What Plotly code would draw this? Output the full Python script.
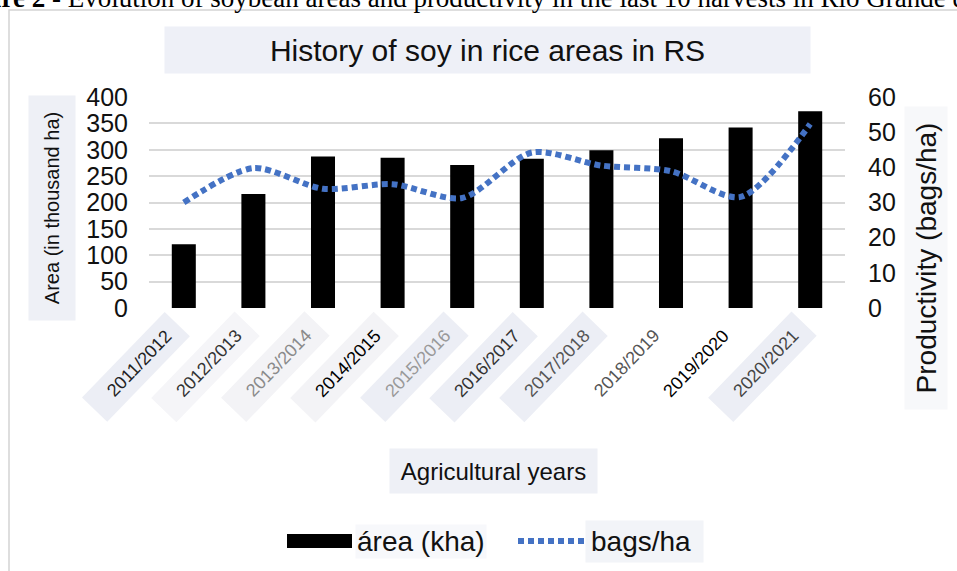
import plotly.graph_objects as go

# Agricultural seasons and values
seasons = ["2011/2012", "2012/2013", "2013/2014", "2014/2015", "2015/2016",
           "2016/2017", "2017/2018", "2018/2019", "2019/2020", "2020/2021"]
area_kha = [121, 216, 287, 285, 271, 283, 299, 322, 342, 373]
bags_ha = [30.0, 39.8, 33.9, 35.2, 31.3, 44.2, 40.5, 38.9, 31.6, 52.3]

left_ticks = [0, 50, 100, 150, 200, 250, 300, 350, 400]
right_ticks = [0, 10, 20, 30, 40, 50, 60]

label_colors = ["#222222", "#333333", "#8a8a8a", "#000000", "#999999",
                "#333333", "#555555", "#555555", "#000000", "#444444"]
label_bgs = ["#eceef5", "#f5f5f8", "#f3f3f6", "#f3f3f6", "#eceef5",
             "#eceef5", "#eceef5", "rgba(0,0,0,0)", "rgba(0,0,0,0)", "#eceef5"]

W, H = 957, 571
L, R, T, B = 149, 112, 97, 263
PW, PH = W - L - R, H - T - B


def px(x):
    return (x - L) / PW


def py(y):
    return (H - B - y) / PH


FONT = "Liberation Sans, Arial, sans-serif"

fig = go.Figure()
fig.add_trace(go.Bar(x=seasons, y=area_kha, name="área (kha)",
                     marker=dict(color="#000000", line=dict(width=0)),
                     yaxis="y", showlegend=False))
fig.add_trace(go.Scatter(x=seasons, y=bags_ha, name="bags/ha", mode="lines",
                         line=dict(color="#4472C4", width=6, dash="6px,4px",
                                   shape="spline", smoothing=0.8),
                         yaxis="y2", showlegend=False))

annotations = []
# rotated category labels with light boxes
for s, c, bg in zip(seasons, label_colors, label_bgs):
    annotations.append(dict(
        x=s, xref="x", y=py(367), yref="paper", xshift=-48,
        text="\u00a0\u00a0\u00a0" + s + "\u00a0", textangle=-46, showarrow=False,
        font=dict(family=FONT, size=18, color=c),
        bgcolor=bg, borderpad=7, xanchor="center", yanchor="middle"))

# chart title
annotations.append(dict(
    x=px(487), y=py(50), xref="paper", yref="paper", showarrow=False,
    text="History of soy in rice areas in RS", width=643, height=44,
    bgcolor="#eef0f7", font=dict(family=FONT, size=30, color="#111111"),
    xanchor="center", yanchor="middle"))

# axis titles
annotations.append(dict(
    x=px(52), y=py(208), xref="paper", yref="paper", showarrow=False,
    text="Area (in thousand ha)", textangle=-90, bgcolor="#eef0f6",
    width=222, height=44, font=dict(family=FONT, size=20, color="#111111"),
    xanchor="center", yanchor="middle"))
annotations.append(dict(
    x=px(926), y=py(258), xref="paper", yref="paper", showarrow=False,
    text="Productivity (bags/ha)", textangle=-90, bgcolor="#f7f8fa",
    width=300, height=40, font=dict(family=FONT, size=28, color="#111111"),
    xanchor="center", yanchor="middle"))
annotations.append(dict(
    x=px(493), y=py(471), xref="paper", yref="paper", showarrow=False,
    text="Agricultural years", width=205, height=42, bgcolor="#eef0f6",
    font=dict(family=FONT, size=24, color="#111111"),
    xanchor="center", yanchor="middle"))

# legend
annotations.append(dict(
    x=px(355), y=py(541), xref="paper", yref="paper", showarrow=False,
    text="área (kha)", bgcolor="#f7f8fb",
    font=dict(family=FONT, size=28, color="#111111"),
    xanchor="left", yanchor="middle"))
annotations.append(dict(
    x=px(585), y=py(541), xref="paper", yref="paper", showarrow=False,
    text="bags/ha ", bgcolor="#f2f4f8", borderpad=5,
    font=dict(family=FONT, size=28, color="#111111"),
    xanchor="left", yanchor="middle"))

# figure caption
annotations.append(dict(
    x=px(-52), y=py(14), xref="paper", yref="paper", showarrow=False,
    text="<b>Figure 2 -</b> Evolution of soybean areas and productivity in the last 10 harvests in Rio Grande do Sul",
    font=dict(family="Liberation Serif, Times New Roman, serif", size=27, color="#000000"),
    xanchor="left", yanchor="bottom", borderpad=0))

shapes = [
    dict(type="rect", xref="paper", yref="paper",
         x0=px(9), x1=px(975), y0=py(590), y1=py(10),
         line=dict(color="#d3d3d3", width=1.5), fillcolor="rgba(0,0,0,0)", layer="below"),
    dict(type="rect", xref="paper", yref="paper",
         x0=px(287), x1=px(352), y0=py(548), y1=py(534),
         line=dict(width=0), fillcolor="#000000"),
    dict(type="line", xref="paper", yref="paper",
         x0=px(518), x1=px(584), y0=py(541), y1=py(541),
         line=dict(color="#4472C4", width=6, dash="6px,4px")),
]

fig.update_layout(
    width=W, height=H,
    margin=dict(l=L, r=R, t=T, b=B, pad=0),
    paper_bgcolor="#ffffff", plot_bgcolor="#ffffff",
    bargap=0.655,
    font=dict(family=FONT, color="#111111"),
    xaxis=dict(range=[-0.5, len(seasons) - 0.5], autorange=False,
               showticklabels=False, showgrid=False, zeroline=False,
               showline=False, ticks=""),
    yaxis=dict(range=[0, 400], tickvals=left_ticks, showgrid=True,
               gridcolor="#d9d9d9", gridwidth=1.5, zeroline=False,
               showline=False, ticks="", ticklabelstandoff=20,
               tickfont=dict(family=FONT, size=25, color="#111111")),
    yaxis2=dict(range=[0, 60], tickvals=right_ticks, overlaying="y",
                side="right", showgrid=False, zeroline=False, showline=False,
                ticks="", ticklabelstandoff=22,
                tickfont=dict(family=FONT, size=25, color="#111111")),
    annotations=annotations,
    shapes=shapes,
)

fig.write_html("out.html")
